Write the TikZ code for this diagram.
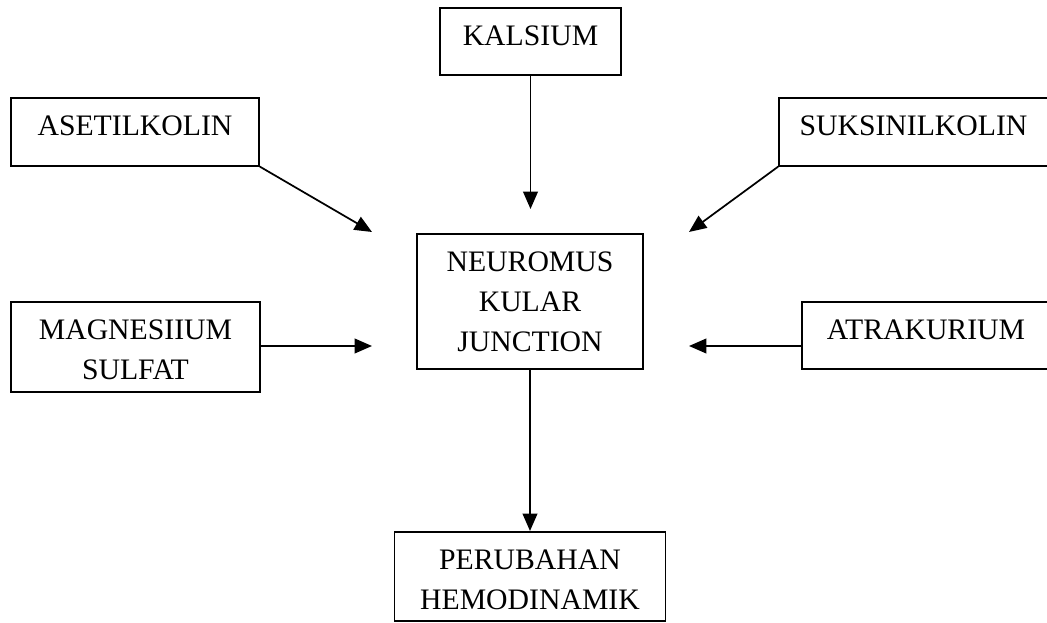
\documentclass[tikz,border=0pt]{standalone}
\usepackage{fontspec}
\setmainfont{Liberation Serif}
\usetikzlibrary{arrows.meta}
\newcommand{\mlines}[1]{\begin{tabular}[t]{@{}c@{}}#1\end{tabular}}
\begin{document}
\begin{tikzpicture}[x=0.75pt,y=-0.75pt,
  box/.style={draw, line width=1.2pt, inner sep=0pt, anchor=north,
    text height=28.5pt, font=\fontsize{22.3pt}{30pt}\selectfont},
  arr/.style={line width=1.3pt, -{Triangle[length=13pt,width=11pt]}}]
\useasboundingbox (0,0) rectangle (1047,623);
\clip (0,0) rectangle (1047,623);
\node[box, minimum width=135.75pt, text depth=21.75pt] (kal) at (530.5,7) {KALSIUM};
\node[box, minimum width=186pt, text depth=22.5pt] (ase) at (135,97) {ASETILKOLIN};
\node[box, minimum width=201.75pt, text depth=22.5pt] (suk) at (913.5,97) {SUKSINILKOLIN};
\node[box, minimum width=169.5pt, text depth=72.75pt] (neu) at (530,233) {\mlines{NEUROMUS\\KULAR\\JUNCTION}};
\node[box, minimum width=186.75pt, text depth=39pt] (mag) at (135.5,301) {\mlines{MAGNESIIUM\\SULFAT}};
\node[box, minimum width=186pt, text depth=21.75pt] (atr) at (926,301) {ATRAKURIUM};
\node[box, minimum width=203.25pt, text depth=38.25pt] (per) at (530,531) {\mlines{PERUBAHAN\\HEMODINAMIK}};
\coordinate (ta) at (372,232);
\coordinate (ts) at (689,232);
\coordinate (tm) at (372,346);
\coordinate (tr) at (689,346);
\draw[arr, shorten >=18pt] (kal.south) -- (kal.south |- neu.north);
\draw[arr] (ase.south east) -- (ta);
\draw[arr] (suk.south west) -- (ts);
\draw[arr] (mag.east |- tm) -- (tm);
\draw[arr] (atr.west |- tr) -- (tr);
\draw[arr] (neu.south) -- (per.north);
\end{tikzpicture}
\end{document}
